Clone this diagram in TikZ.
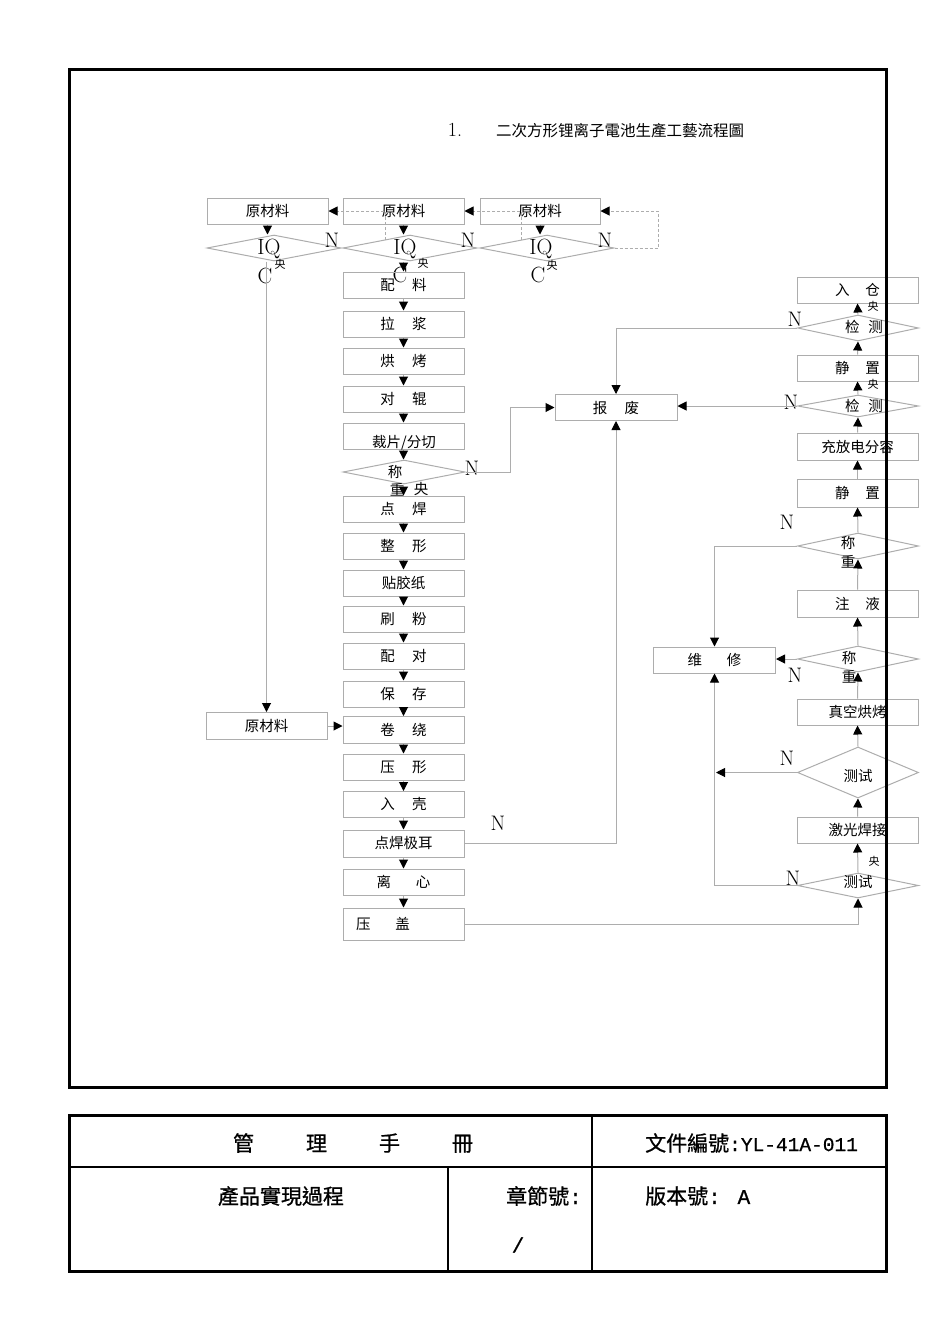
\documentclass[tikz,border=0pt]{standalone}
\usepackage{fontspec}
\newfontfamily\cjk{Noto Sans CJK SC}
\newfontfamily\cjktc[FakeBold=0.8]{Noto Sans CJK TC}
\newfontfamily\monof[FakeBold=0.8]{Liberation Mono}
\usetikzlibrary{arrows.meta,shapes.geometric}
\definecolor{lg}{gray}{0.68}
\tikzset{
 pbox/.style={draw=lg, line width=1pt, minimum width=121pt, minimum height=26pt, inner sep=0pt, font=\cjk\fontsize{14.5}{16}\selectfont},
 dia/.style={draw=lg, line width=1pt, diamond, minimum width=121pt, minimum height=26pt, inner sep=0pt},
 txt/.style={inner sep=0pt, font=\cjk\fontsize{14.5}{16}\selectfont},
 sm/.style={inner sep=0pt, font=\cjk\fontsize{11}{11}\selectfont},
 lat/.style={inner sep=0pt, font=\fontsize{22}{22}\selectfont},
 nl/.style={inner sep=0pt, font=\fontsize{21}{21}\selectfont},
 arr/.style={draw=lg, line width=1pt, -{Triangle[length=9pt,width=9pt,color=black]}},
 con/.style={draw=lg, line width=1pt},
 dsh/.style={draw=lg, line width=1pt, dash pattern=on 3pt off 2pt, -{Triangle[length=9pt,width=9pt,color=black]}},
 ft/.style={inner sep=0pt, font=\cjktc\fontsize{21}{21}\selectfont},
}
\begin{document}
\begin{tikzpicture}[x=1pt,y=-1pt]
\useasboundingbox (0,0) rectangle (950,1344);
\fill[white] (0,0) rectangle (950,1344);

% title
\node[inner sep=0pt, font=\fontsize{20}{20}\selectfont] (ttn) at (455,130) {1.};
\node[anchor=west, inner sep=0pt, font=\cjk\fontsize{15.5}{16}\selectfont] (tt) at (496,131) {二次方形锂离子電池生產工藝流程圖};

% top raw material boxes and IQC diamonds
\node[pbox] (r1) at (267.5,211) {原材料};
\node[pbox] (r2) at (403.5,211) {原材料};
\node[pbox, minimum width=120pt] (r3) at (540,211) {原材料};
\node[dia, minimum width=134pt] (d1) at (274,248) {};
\node[dia, minimum width=134pt] (d2) at (410,248) {};
\node[dia, minimum width=134pt] (d3) at (547,248) {};
\node[lat] (iq1) at (269,249) {IQ};
\node[sm] (y1) at (280,264) {央};
\node[lat] (c1) at (265,276) {C};
\node[lat] (iq2) at (405,249) {IQ};
\node[sm] (y2) at (423,263) {央};
\node[lat] (c2) at (400,275) {C};
\node[lat] (iq3) at (541,249) {IQ};
\node[sm] (y3) at (552,265) {央};
\node[lat] (c3) at (538,275) {C};
\node[nl] (n1) at (332,240) {N};
\node[nl] (n2) at (468,240) {N};
\node[nl] (n3) at (605,240) {N};

\draw[arr] (r1.south) -- (r1.south |- d1.north);
\draw[arr] (r2.south) -- (r2.south |- d2.north);
\draw[arr] (r3.south) -- (r3.south |- d3.north);

\coordinate (k2) at (385,240);
\coordinate (k3) at (521,240);
\coordinate (k4) at (658,248);
\draw[dsh] (k2) |- (r1.east);
\draw[dsh] (k3) |- (r2.east);
\draw[dsh] (d3.east) -- (k4) |- (r3.east);

% main column
\node[pbox] (m1) at (403.5,285) {配\hspace{1.2em}料};
\node[pbox] (m2) at (403.5,324) {拉\hspace{1.2em}浆};
\node[pbox] (m3) at (403.5,361) {烘\hspace{1.2em}烤};
\node[pbox] (m4) at (403.5,399) {对\hspace{1.2em}辊};
\node[pbox] (m5) at (403.5,436) {};
\node[txt] (m5t) at (404,443) {裁片/分切};
\node[dia, minimum width=122pt, minimum height=24pt] (dw) at (404,472) {};
\node[txt] (dwa) at (395,472) {称};
\node[txt] (dwb) at (397,490) {重};
\node[txt] (dwc) at (421,489) {央};
\node[nl] (n4) at (472,468) {N};
\node[pbox] (m6) at (403.5,509) {点\hspace{1.2em}焊};
\node[pbox] (m7) at (403.5,546) {整\hspace{1.2em}形};
\node[pbox] (m8) at (403.5,583) {贴胶纸};
\node[pbox] (m9) at (403.5,619) {刷\hspace{1.2em}粉};
\node[pbox] (m10) at (403.5,656) {配\hspace{1.2em}对};
\node[pbox] (m11) at (403.5,694) {保\hspace{1.2em}存};
\node[pbox, minimum height=27pt] (m12) at (403.5,730) {卷\hspace{1.2em}绕};
\node[pbox] (m13) at (403.5,767) {压\hspace{1.2em}形};
\node[pbox] (m14) at (403.5,804.5) {入\hspace{1.2em}壳};
\node[pbox, minimum height=27pt] (m15) at (403.5,843.5) {点焊极耳};
\node[pbox] (m16) at (403.5,882) {离\hspace{1.7em}心};
\node[pbox, minimum height=32pt] (m17) at (403.5,924) {};
\node[txt] (m17t) at (383,924) {压\hspace{1.7em}盖};
\node[nl] (n5) at (498,823) {N};

\draw[arr] (d2.south -| m1.north) -- (m1.north);
\draw[arr] (m1.south) -- (m2.north);
\draw[arr] (m2.south) -- (m3.north);
\draw[arr] (m3.south) -- (m4.north);
\draw[arr] (m4.south) -- (m5.north);
\draw[arr] (m5.south) -- (m5.south |- dw.north);
\draw[arr] (m5.south |- dw.south) -- (m6.north);
\draw[arr] (m6.south) -- (m7.north);
\draw[arr] (m7.south) -- (m8.north);
\draw[arr] (m8.south) -- (m9.north);
\draw[arr] (m9.south) -- (m10.north);
\draw[arr] (m10.south) -- (m11.north);
\draw[arr] (m11.south) -- (m12.north);
\draw[arr] (m12.south) -- (m13.north);
\draw[arr] (m13.south) -- (m14.north);
\draw[arr] (m14.south) -- (m15.north);
\draw[arr] (m15.south) -- (m16.north);
\draw[arr] (m16.south) -- (m17.north);

% left raw material
\node[pbox, minimum height=27pt] (r4) at (266.5,726) {原材料};
\draw[arr] (r4.north |- d1.south) -- (r4.north);
\draw[arr] (r4.east) -- (r4.east -| m12.west);

% scrap and repair
\node[pbox, minimum width=122pt] (sc) at (616,407.5) {报\hspace{1.2em}废};
\node[pbox, minimum width=122pt] (wx) at (714.5,660) {维\hspace{1.7em}修};
\coordinate (kw) at (510,472);
\draw[arr] (dw.east) -- (kw) |- (sc.west);
\draw[arr] (m15.east) -| (sc.south);

% right column
\node[pbox] (q1) at (857.5,290) {入\hspace{1.1em}仓};
\node[dia] (qd1) at (858,328) {};
\node[txt] (qd1t) at (864,327) {检\hspace{0.6em}测};
\node[sm] (qy1) at (873,306) {央};
\node[pbox] (q2) at (857.5,368) {静\hspace{1.1em}置};
\node[sm] (qy2) at (873,384) {央};
\node[dia, minimum height=22pt] (qd2) at (858,406) {};
\node[txt] (qd2t) at (864,406) {检\hspace{0.6em}测};
\node[pbox, minimum height=27pt] (q3) at (857.5,446.5) {充放电分容};
\node[pbox, minimum height=28pt] (q4) at (857.5,493) {静\hspace{1.1em}置};
\node[dia] (qd3) at (858,546) {};
\node[txt] (qd3a) at (848,543) {称};
\node[txt] (qd3b) at (848,562) {重};
\node[pbox, minimum height=27pt] (q5) at (857.5,603.5) {注\hspace{1.1em}液};
\node[dia] (qd4) at (858,659) {};
\node[txt] (qd4a) at (849,658) {称};
\node[txt] (qd4b) at (849,677) {重};
\node[pbox] (q6) at (857.5,712) {真空烘烤};
\node[dia, minimum height=51pt] (qd5) at (858,772.5) {};
\node[txt] (qd5t) at (858,776) {测试};
\node[pbox] (q7) at (857.5,830) {激光焊接};
\node[sm] (qy3) at (874,861) {央};
\node[dia, minimum height=25pt] (qd6) at (858,885.5) {};
\node[txt] (qd6t) at (858,882) {测试};

\draw[arr] (qd6.north) -- (q7.south);
\draw[arr] (q7.north) -- (qd5.south);
\draw[arr] (qd5.north) -- (q6.south);
\draw[arr] (q6.north) -- (qd4.south);
\draw[arr] (qd4.north) -- (q5.south);
\draw[arr] (q5.north) -- (qd3.south);
\draw[arr] (qd3.north) -- (q4.south);
\draw[arr] (q4.north) -- (q3.south);
\draw[arr] (q3.north) -- (qd2.south);
\draw[arr] (qd2.north) -- (q2.south);
\draw[arr] (q2.north) -- (qd1.south);
\draw[arr] (qd1.north) -- (q1.south);
\draw[arr] (m17.east) -| (qd6.south);

\node[nl] (n6) at (795,319) {N};
\node[nl] (n7) at (791,402) {N};
\node[nl] (n8) at (787,522) {N};
\node[nl] (n9) at (795,675) {N};
\node[nl] (n10) at (787,758) {N};
\node[nl] (n11) at (793,878) {N};

\coordinate (fx) at (716,772.5);
\draw[arr] (qd1.west) -| (sc.north);
\draw[arr] (qd2.west) -- (qd2.west -| sc.east);
\draw[arr] (qd3.west) -| (wx.north);
\draw[arr] (qd4.west) -- (qd4.west -| wx.east);
\draw[arr] (qd5.west) -- (fx);
\draw[arr] (qd6.west) -| (wx.south);

% frame
\draw[line width=3pt] (69,69) rectangle (886,1087);

% footer table
\draw[line width=3pt] (69,1115) rectangle (886,1271);
\draw[line width=2pt] (69,1167) -- (886,1167);
\draw[line width=2pt] (592,1115) -- (592,1271);
\draw[line width=2pt] (448,1167) -- (448,1271);
\node[ft] (f1) at (353,1143) {管\hspace{52pt}理\hspace{52pt}手\hspace{52pt}冊};
\node[ft, anchor=west] (f2) at (645,1143) {文件編號{\monof\fontsize{19.5}{20}\selectfont :YL-41A-011}};
\node[ft] (f3) at (281,1196) {產品實現過程};
\node[ft, anchor=east] (f4) at (582,1196) {章節號{\monof :}};
\node[ft] (f5) at (518,1245) {{\monof /}};
\node[ft, anchor=west] (f6) at (645,1196) {版本號{\monof : A}};
\end{tikzpicture}
\end{document}
